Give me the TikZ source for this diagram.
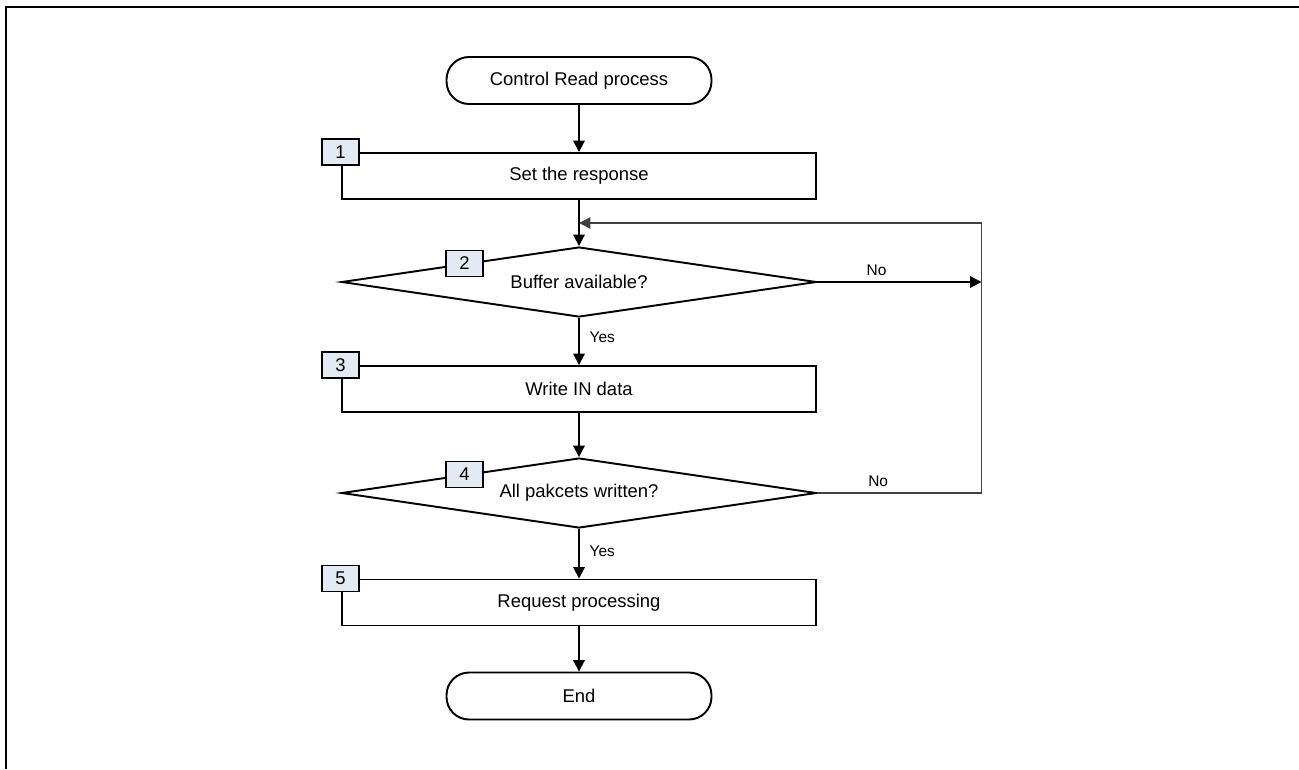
\documentclass[tikz,border=0pt]{standalone}
\usepackage{fontspec}
\setmainfont{Liberation Sans}
\usepackage{xcolor}
\definecolor{markfill}{RGB}{228,234,244}
\definecolor{loopgray}{RGB}{64,64,64}
\usepackage{tikz}
\usetikzlibrary{positioning,shapes.geometric,arrows.meta,calc}
\newcommand{\stepmark}[2]{%
  \node[stepnum] (m#1) at (#2) {#1};}

\begin{document}
\begin{tikzpicture}[x=0.02cm,y=-0.02cm,line width=1.1pt,
  term/.style={draw,rounded corners=0.45cm,minimum width=5.3cm,minimum height=0.94cm,font=\fontsize{10.5}{12}\selectfont},
  proc/.style={draw,minimum width=9.5cm,minimum height=0.92cm,font=\fontsize{10.5}{12}\selectfont},
  cond/.style={draw,diamond,aspect=6.6,inner sep=0pt,minimum width=9.5cm,minimum height=1.4cm,font=\fontsize{10.5}{12}\selectfont},
  stepnum/.style={draw,fill=markfill,line width=0.9pt,minimum width=0.74cm,minimum height=0.52cm,inner sep=0pt,font=\fontsize{10.5}{12}\selectfont},
  flow/.style={-{Triangle[length=6.5pt,width=6.5pt]}},
  back/.style={draw=loopgray,line width=0.85pt},
  answer/.style={font=\fontsize{8.8}{10}\selectfont,inner sep=0pt,text=black}]
  \useasboundingbox (0,0) rectangle (1299,769);
  \draw (6,769) -- (6,7) -- (1299,7);
  % Schritte
  \node[term] (start) at (579,80.5) {Control Read process};
  \node[proc] (p1) at (579,176) {Set the response};
  \node[cond] (d1) at (579,282) {Buffer available?};
  \node[proc] (p3) at (579,389) {Write IN data};
  \node[cond] (d2) at (579,493) {All pakcets written?};
  \node[proc] (p5) at (579,602.5) {Request processing};
  \node[term] (stop) at (579,696) {End};
  \coordinate (backlow) at (981.5,493);
  \coordinate (backtop) at (981.5,223);
  \coordinate (backin) at (579,223);
  \draw[flow] (start) -- (p1);
  \draw[flow] (p1) -- (d1);
  \draw[flow] (d1) -- node[answer,right=5.5pt,pos=0.42] {Yes} (p3);
  \draw[flow] (p3) -- (d2);
  \draw[flow] (d2) -- node[answer,right=5.5pt,pos=0.45] {Yes} (p5);
  \draw[flow] (p5) -- (stop);
  \draw[flow] (d1.east) -- node[answer,above=3pt,pos=0.36] {No} (d1.east -| backtop);
  \draw[back] (d2.east) -- node[answer,above=3pt,pos=0.37] {No} (backlow) -- (backtop);
  \draw[back,flow] (backtop) -- (backin);
  \stepmark{1}{p1.north west}
  \stepmark{2}{$(d1.west)!0.52!(d1.north)$}
  \stepmark{3}{p3.north west}
  \stepmark{4}{$(d2.west)!0.52!(d2.north)$}
  \stepmark{5}{p5.north west}
\end{tikzpicture}
\end{document}
